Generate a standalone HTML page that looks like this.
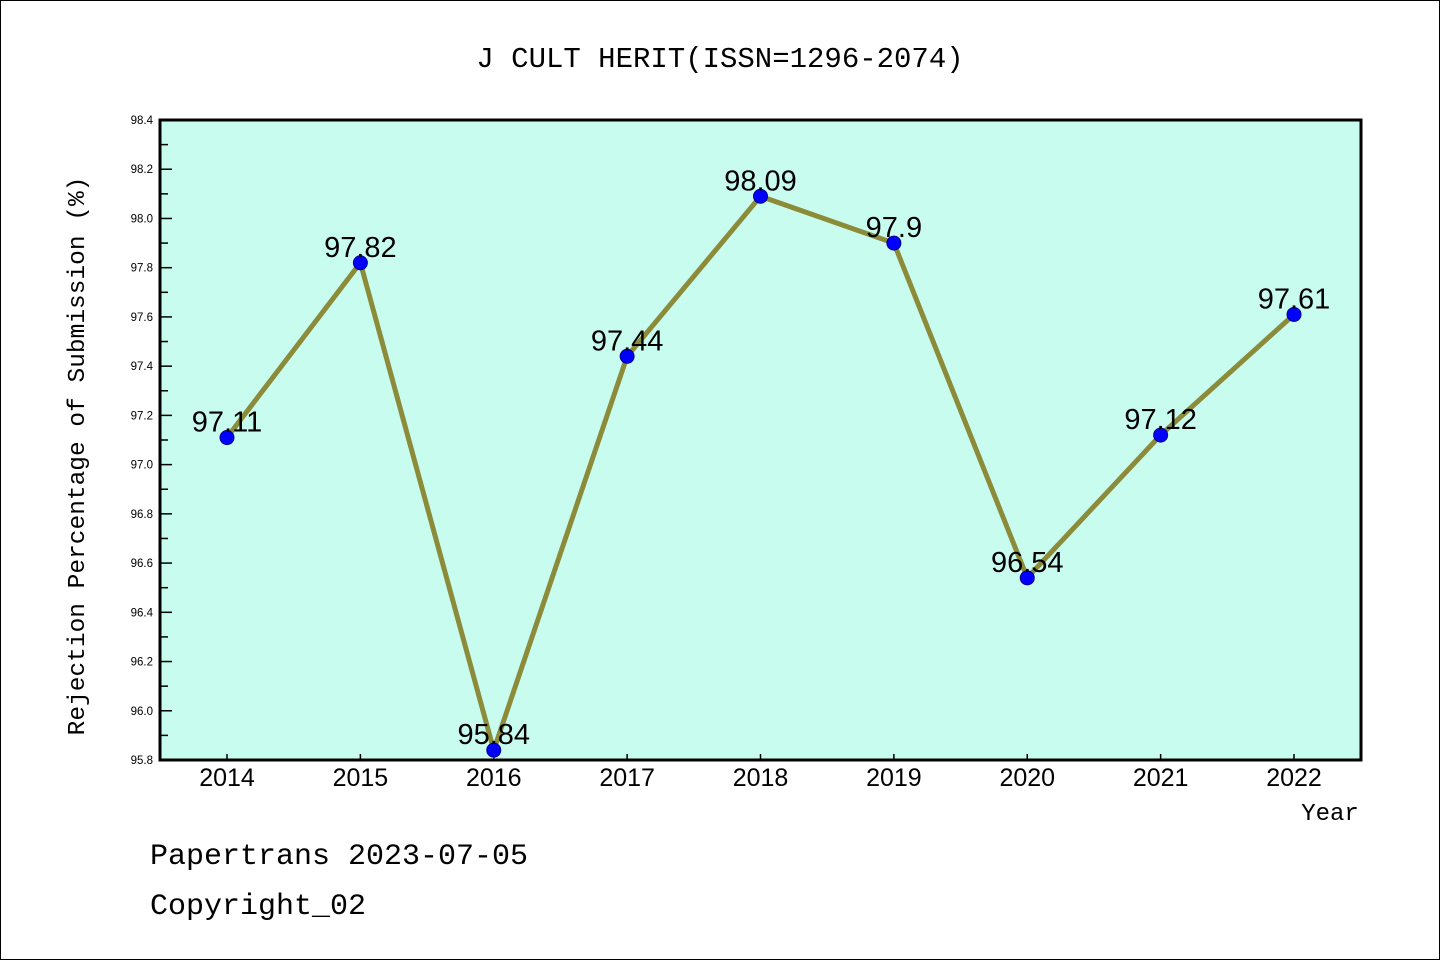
<!DOCTYPE html>
<html><head><meta charset="utf-8"><style>
body{margin:0;background:#fff}
svg{display:block;font-family:"Liberation Mono",monospace}
</style></head><body>
<svg width="1440" height="960">
<rect x="0.5" y="0.5" width="1439" height="959" fill="#fff" stroke="#000"/>
<text x="720" y="67" text-anchor="middle" font-size="29">J CULT HERIT(ISSN=1296-2074)</text>
<rect x="160" y="120" width="1201" height="640" fill="#c8fcee"/>
<g id="yt"></g><g id="xt"></g><g id="series"></g>
<rect x="160" y="120" width="1201" height="640" fill="none" stroke="#000" stroke-width="3"/>
<text transform="translate(84,456) rotate(-90)" text-anchor="middle" font-size="24.5">Rejection Percentage of Submission (%)</text>
<text x="1330" y="820" text-anchor="middle" font-size="24">Year</text>
<text x="150" y="864" font-size="30">Papertrans 2023-07-05</text>
<text x="150" y="914" font-size="30">Copyright_02</text>
</svg>
<script>
const years=["2014","2015","2016","2017","2018","2019","2020","2021","2022"];
const values=[97.11,97.82,95.84,97.44,98.09,97.9,96.54,97.12,97.61];
const labels=["97.11","97.82","95.84","97.44","98.09","97.9","96.54","97.12","97.61"];
const yTicks=[95.8,96.0,96.2,96.4,96.6,96.8,97.0,97.2,97.4,97.6,97.8,98.0,98.2,98.4];
const NS="http://www.w3.org/2000/svg";
const yMin=95.8,yMax=98.4,plotTop=120,plotBot=760;
const yS=v=>plotBot-(v-yMin)/(yMax-yMin)*(plotBot-plotTop);
const xS=i=>227+i*133.375;
function mk(t,a,p){const e=document.createElementNS(NS,t);for(const k in a)e.setAttribute(k,a[k]);p.appendChild(e);return e;}
const yt=document.getElementById('yt'),xt=document.getElementById('xt'),sg=document.getElementById('series');
yTicks.forEach((v,i)=>{
 const l=mk('line',{x1:160,x2:172,y1:yS(v),y2:yS(v),stroke:'#000','stroke-width':1.5},yt);
 
 
 const t=mk('text',{x:153,y:yS(v)+4,'text-anchor':'end','font-size':11.5,'font-family':'Liberation Sans, sans-serif'},yt);
 t.textContent=v.toFixed(1);
 
 
 if(i<yTicks.length-1){const m=(v+yTicks[i+1])/2;
  const n=mk('line',{x1:160,x2:168,y1:yS(m),y2:yS(m),stroke:'#000','stroke-width':1.5},yt);
  
  }
});
years.forEach((yr,i)=>{
 const l=mk('line',{x1:xS(i),x2:xS(i),y1:760,y2:754,stroke:'#000','stroke-width':1.5},xt);
 
 
 const t=mk('text',{x:xS(i),y:786,'text-anchor':'middle','font-size':25,'font-family':'Liberation Sans, sans-serif'},xt);
 t.textContent=yr;
 
 
});
const pl=mk('polyline',{points:values.map((v,i)=>xS(i)+','+yS(v)).join(' '),fill:'none',stroke:'#8b8b3a','stroke-width':5},sg);


values.forEach((v,i)=>{
 const c=mk('circle',{cx:xS(i),cy:yS(v),r:7,fill:'#0000ff',stroke:'#00008b','stroke-width':1},sg);
 
 
 const t=mk('text',{x:xS(i),y:yS(v)-6,'text-anchor':'middle','font-size':29,'font-family':'Liberation Sans, sans-serif'},sg);
 t.textContent=labels[i];
 
 
});
</script>
</body></html>
